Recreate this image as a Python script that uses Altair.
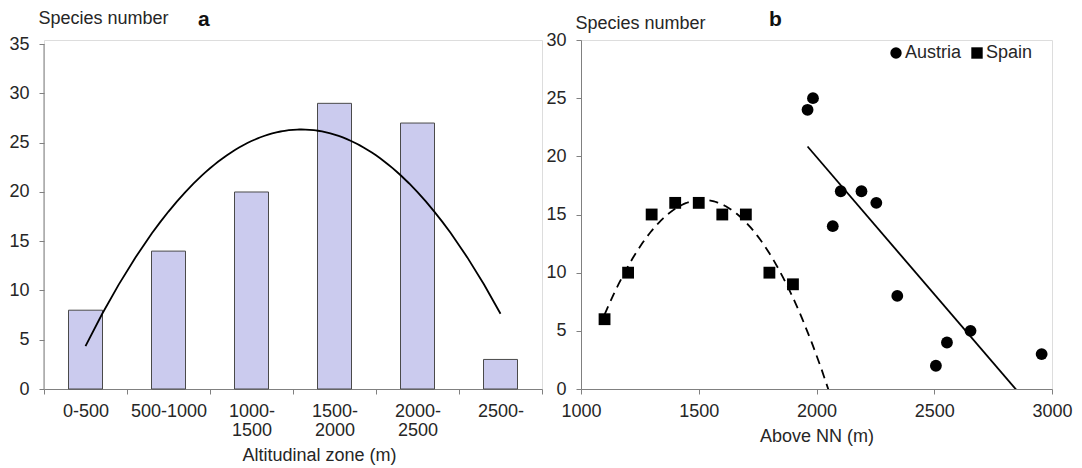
import altair as alt
import pandas as pd

# ---- data: panel a ----
zones = ["0-500", "500-1000", "1000-|1500", "1500-|2000", "2000-|2500", "2500-"]
zone_index = [0, 1, 2, 3, 4, 5]
species_a = [8, 14, 20, 29, 27, 3]
ticks_a = [0, 5, 10, 15, 20, 25, 30, 35]

# ---- data: panel b ----
spain_alt = [1100, 1200, 1300, 1400, 1500, 1600, 1700, 1800, 1900]
spain_sp = [6, 10, 15, 16, 16, 15, 15, 10, 9]
austria_alt = [1962, 1985, 2069, 2103, 2191, 2254, 2343, 2507, 2554, 2654, 2956]
austria_sp = [24, 25, 14, 17, 17, 16, 8, 2, 4, 5, 3]
ticks_bx = [1000, 1500, 2000, 2500, 3000]
ticks_by = [0, 5, 10, 15, 20, 25, 30]

FONT = "Liberation Sans"
TXT = "#262626"
AX = "#808080"

dfa = pd.DataFrame({"zone": zones, "idx": zone_index, "species": species_a})
dfb = pd.DataFrame({
    "alt": spain_alt + austria_alt,
    "sp": spain_sp + austria_sp,
    "country": ["Spain"] * len(spain_alt) + ["Austria"] * len(austria_alt),
})

axis_common = dict(
    grid=False, labelFont=FONT, labelFontSize=18, labelColor=TXT,
    titleFont=FONT, titleFontSize=18, titleColor=TXT, titleFontWeight="normal",
    domainColor=AX, tickColor=AX, tickSize=5, labelFlush=False,
)

# ---------- panel a ----------
bars = alt.Chart(dfa).mark_bar(width=34, fill="#CBCBEE", stroke="#4a4a4a", strokeWidth=1).encode(
    x=alt.X("zone:N", sort=zones,
            scale=alt.Scale(paddingInner=0, paddingOuter=0),
            axis=alt.Axis(title="Altitudinal zone (m)", labelExpr="split(datum.label, '|')",
                          labelAngle=0, tickBand="extent", labelPadding=8.5, labelLineHeight=19,
                          titlePadding=6.5, titleX=275, **axis_common)),
    y=alt.Y("species:Q", scale=alt.Scale(domain=[0, 35.43], nice=False),
            axis=alt.Axis(values=ticks_a, title="Species number", titleAngle=0,
                          titleAlign="left", titleBaseline="alphabetic", titleX=-6, titleY=-17,
                          labelPadding=10, domain=False, **axis_common)),
)

yline_a = alt.Chart(pd.DataFrame({"v": [0]})).mark_rule(color=AX, strokeWidth=1).encode(
    x=alt.value(0), y=alt.datum(0), y2=alt.datum(35)
)

curve_a = alt.Chart(dfa).transform_regression(
    "idx", "species", method="poly", order=2
).mark_line(color="black", strokeWidth=1.8).encode(
    x=alt.X("idx:Q", scale=alt.Scale(domain=[-0.5, 5.5], nice=False, zero=False), axis=None),
    y=alt.Y("species:Q"),
)

panel_a = alt.layer(bars, yline_a, curve_a).resolve_scale(x="independent").properties(
    width=498, height=349,
    title=alt.TitleParams("a", anchor="start", frame="group", dx=154, offset=-38,
                          baseline="alphabetic", font=FONT, fontSize=21, fontWeight="bold", color="#111"),
)

# ---------- panel b ----------
xb = alt.X("alt:Q", scale=alt.Scale(domain=[1000, 3000], nice=False, zero=False),
           axis=alt.Axis(values=ticks_bx, format="d", title="Above NN (m)", labelPadding=8.5,
                         titlePadding=6.5, **axis_common))
yb = alt.Y("sp:Q", scale=alt.Scale(domain=[0, 30], nice=False),
           axis=alt.Axis(values=ticks_by, title="Species number", titleAngle=0,
                         titleAlign="left", titleBaseline="alphabetic", titleX=-6, titleY=-12,
                         labelPadding=10, **axis_common))

points = alt.Chart(dfb).mark_point(filled=True, opacity=1, color="black", size=140).encode(
    x=xb, y=yb,
    shape=alt.Shape("country:N",
                    scale=alt.Scale(domain=["Austria", "Spain"], range=["circle", "square"]),
                    legend=alt.Legend(title=None, orient="none", legendX=843, legendY=4,
                                      direction="horizontal", symbolSize=130, symbolFillColor="black",
                                      symbolStrokeColor="black", labelFont=FONT, labelFontSize=18,
                                      labelColor=TXT, labelOffset=0, columnPadding=6, padding=0)),
)

spain_fit = alt.Chart(dfb).transform_filter("datum.country == 'Spain'").transform_regression(
    "alt", "sp", method="poly", order=2, extent=[1100, 2100]
).mark_line(color="black", strokeWidth=1.8, strokeDash=[9, 6], clip=True).encode(
    x=alt.X("alt:Q"), y=alt.Y("sp:Q")
)

austria_fit = alt.Chart(dfb).transform_filter("datum.country == 'Austria'").transform_regression(
    "alt", "sp", method="linear", extent=[1962, 3000]
).mark_line(color="black", strokeWidth=1.8, clip=True).encode(
    x=alt.X("alt:Q"), y=alt.Y("sp:Q")
)

panel_b = alt.layer(spain_fit, austria_fit, points).properties(
    width=471, height=349,
    title=alt.TitleParams("b", anchor="start", frame="group", dx=188, offset=-33,
                          baseline="alphabetic", font=FONT, fontSize=21, fontWeight="bold", color="#111"),
)

chart = alt.hconcat(panel_a, panel_b, spacing=2).properties(
    padding={"left": 0, "top": 0, "right": 0, "bottom": 0}
).configure_view(stroke=None).configure(background="white")

chart.save("out.html", embed_options={"renderer": "svg", "actions": False})
